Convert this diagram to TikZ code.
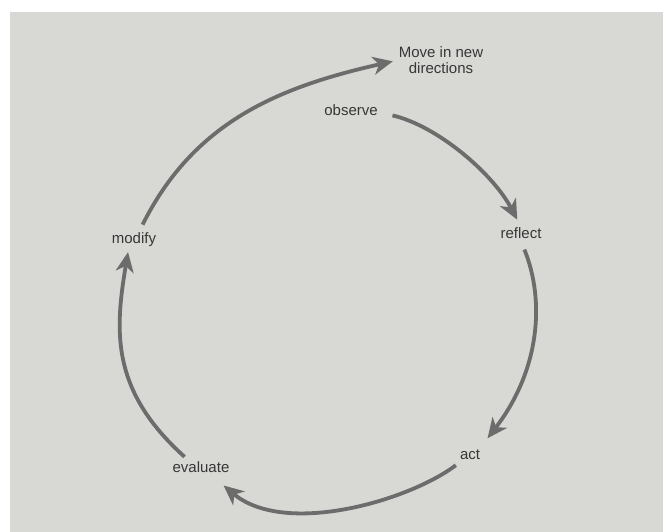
\documentclass[tikz,border=0pt]{standalone}
\usepackage{fontspec}
\setmainfont{Liberation Sans}
\usetikzlibrary{arrows.meta,positioning}
\definecolor{paper}{RGB}{216,216,213}
\definecolor{inkgray}{RGB}{108,108,108}
\definecolor{txtgray}{RGB}{55,55,55}

\begin{document}
\begin{tikzpicture}[x=1pt,y=-1pt,
  lbl/.style={font=\fontsize{15}{16}\selectfont, text=txtgray, inner sep=0pt, align=center},
  stage/.style={lbl, text height=11pt, text depth=3pt},
  cyc/.style={draw=inkgray, line width=3.8pt, -{Stealth[length=20pt,width=18pt,inset=6pt]}}]
\useasboundingbox (0,0) rectangle (663,532);
\fill[white] (0,0) rectangle (663,532);
\fill[paper] (10,12) rectangle (663,532);
\node[lbl] (move) at (441,60) {Move in new\\directions};
\node[stage] (observe) at (351,112) {observe};
\node[stage] (reflect) at (521,234) {reflect};
\node[stage] (act) at (470,455) {act};
\node[stage] (evaluate) at (201,468) {evaluate};
\node[stage] (modify) at (134,239) {modify};
\draw[cyc, shorten <=15pt, shorten >=8pt] (observe.east) .. controls +(60,14) and +(-28,-53) .. (reflect.north);
\draw[cyc, shorten <=9pt, shorten >=12pt] (reflect.south) .. controls +(24,59) and +(60,-78) .. (act.north east);
\draw[cyc, shorten <=5pt, shorten >=16pt] (act.south west) .. controls +(-50,38) and +(74,62) .. (evaluate.-35);
\draw[cyc, shorten <=6pt, shorten >=6pt] ([xshift=-12pt]evaluate.north) .. controls +(-79,-71) and +(-14,84) .. ([xshift=-5pt]modify.south);
\draw[cyc, shorten <=8pt, shorten >=6pt] ([xshift=5pt]modify.north) .. controls +(55,-110) and +(-120,27) .. (move.west);
\end{tikzpicture}
\end{document}
